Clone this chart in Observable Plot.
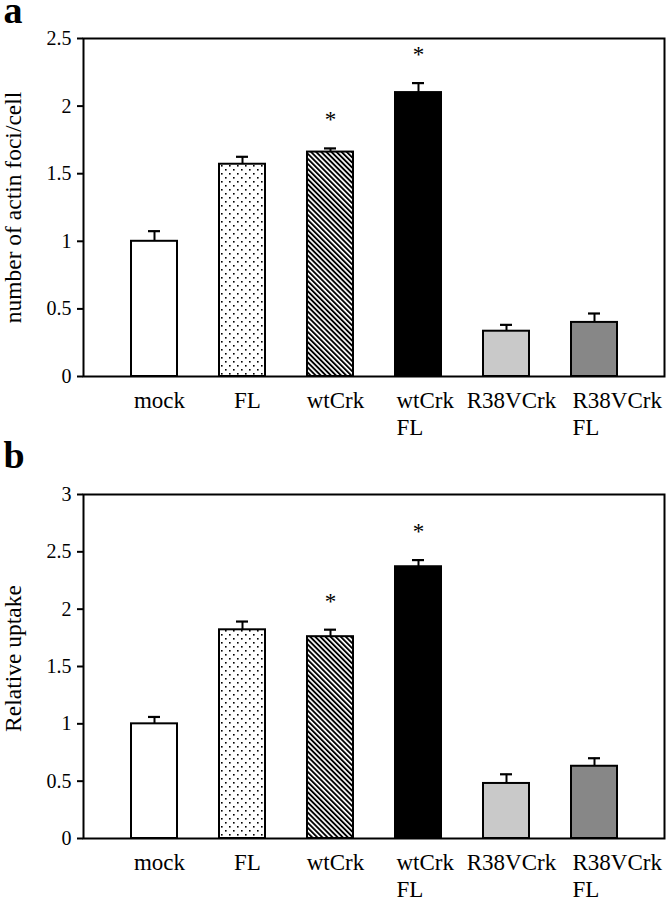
<!DOCTYPE html>
<html>
<head>
<meta charset="utf-8">
<script src="https://cdn.jsdelivr.net/npm/d3@7"></script>
<script src="https://cdn.jsdelivr.net/npm/@observablehq/plot@0.6"></script>
<style>
  html, body { margin: 0; padding: 0; background: #fff; }
  body { width: 666px; height: 900px; position: relative; overflow: hidden; }
  .panel { position: absolute; left: 0; }
</style>
</head>
<body>
<svg width="0" height="0" style="position:absolute">
  <defs>
    <pattern id="dots" width="8" height="8" patternUnits="userSpaceOnUse">
      <rect width="8" height="8" fill="white"/>
      <rect x="1" y="1" width="1.6" height="1.6" fill="black"/>
      <rect x="5" y="5" width="1.6" height="1.6" fill="black"/>
    </pattern>
    <pattern id="hatch" width="3.6" height="3.6" patternUnits="userSpaceOnUse" patternTransform="rotate(-45)">
      <rect width="3.6" height="3.6" fill="white"/>
      <rect width="1.9" height="3.6" fill="black"/>
    </pattern>
  </defs>
</svg>
<div id="panelA" class="panel" style="top:0px"></div>
<div id="panelB" class="panel" style="top:445px"></div>
<script>
// ---------- data ----------
const categories = ["mock", "FL", "wtCrk", "wtCrk FL", "R38VCrk", "R38VCrk FL"];
const categoryLabels = ["mock", "FL", "wtCrk", "wtCrk\nFL", "R38VCrk", "R38VCrk\nFL"];
const significant = [false, false, true, true, false, false];

const actinFoci = [1.00, 1.57, 1.66, 2.10, 0.335, 0.40];
const actinFociErr = [0.075, 0.055, 0.027, 0.07, 0.047, 0.066];

const uptake = [1.00, 1.82, 1.76, 2.37, 0.48, 0.63];
const uptakeErr = [0.06, 0.072, 0.061, 0.058, 0.08, 0.07];

const yTicksA = [0, 0.5, 1, 1.5, 2, 2.5];
const yTicksB = [0, 0.5, 1, 1.5, 2, 2.5, 3];

const fills = ["white", "url(#dots)", "url(#hatch)", "black", "#c9c9c9", "#878787"];

// ---------- helpers ----------
const FONT = "Liberation Serif";
const labelSize = 23;
const labelLH = 1.2;

function panel({values, errs, ticks, yMax, height, marginTop, marginBottom, title, letter, letterDy, labelBaseline, titleDy}) {
  const rows = categories.map((c, i) => ({
    cat: c, label: categoryLabels[i], v: values[i], e: errs[i], top: values[i] + errs[i], sig: significant[i]
  }));
  const labelDy = labelBaseline - 0.71 * labelLH * labelSize;
  const single = rows.filter(r => !r.label.includes("\n"));
  const multi = rows.filter(r => r.label.includes("\n"));
  return Plot.plot({
    width: 666, height, marginTop, marginBottom, marginLeft: 83, marginRight: 2,
    x: {domain: categories, paddingInner: 0.48, paddingOuter: 0.51, axis: null},
    y: {domain: [0, yMax], axis: null},
    color: {domain: categories, range: fills},
    style: {fontFamily: FONT, fontSize: "20px", color: "black", background: "white", overflow: "visible"},
    marks: [
      Plot.barY(rows, {x: "cat", y1: 0, y2: "v", fill: "cat", stroke: "black", strokeWidth: 2}),
      Plot.ruleX(rows, {x: "cat", y1: "v", y2: "top", stroke: "black", strokeWidth: 2}),
      Plot.tickY(rows, {x: "cat", y: "top", stroke: "black", strokeWidth: 2.2, insetLeft: 17, insetRight: 17}),
      Plot.text(rows.filter(r => r.sig), {x: "cat", y: "top", text: () => "*", dy: -21, lineAnchor: "bottom", fontSize: 23, fill: "black"}),
      Plot.frame({stroke: "black", strokeWidth: 2}),
      Plot.axisY(ticks, {tickFormat: d => String(d), tickSize: 6, tickPadding: 6, strokeWidth: 2, fontSize: 20, label: null, fill: "black"}),
      Plot.text([title], {frameAnchor: "left", dx: -70, dy: titleDy, rotate: -90, textAnchor: "middle", lineAnchor: "middle", fontSize: 23.5, fill: "black"}),
      Plot.text([letter], {frameAnchor: "top-left", dx: -80, dy: letterDy, textAnchor: "start", lineAnchor: "bottom", fontSize: 38, fontWeight: "bold", fill: "black"}),
      Plot.text(single, {x: "cat", text: "label", frameAnchor: "bottom", textAnchor: "middle", lineAnchor: "top",
        lineHeight: labelLH, dx: 5, dy: labelDy, fontSize: labelSize, fill: "black"}),
      Plot.text(multi, {x: "cat", text: "label", frameAnchor: "bottom", textAnchor: "start", lineAnchor: "top",
        lineHeight: labelLH, dx: -22, dy: labelDy, fontSize: labelSize, fill: "black"})
    ]
  });
}

document.getElementById("panelA").appendChild(panel({
  values: actinFoci, errs: actinFociErr, ticks: yTicksA, yMax: 2.5,
  height: 445, marginTop: 38, marginBottom: 69,
  title: "number of actin foci/cell", letter: "a", letterDy: -16, labelBaseline: 31, titleDy: 0
}));
document.getElementById("panelB").appendChild(panel({
  values: uptake, errs: uptakeErr, ticks: yTicksB, yMax: 3,
  height: 455, marginTop: 49, marginBottom: 62,
  title: "Relative uptake", letter: "b", letterDy: -27, labelBaseline: 31, titleDy: -8
}));
</script>
</body>
</html>
